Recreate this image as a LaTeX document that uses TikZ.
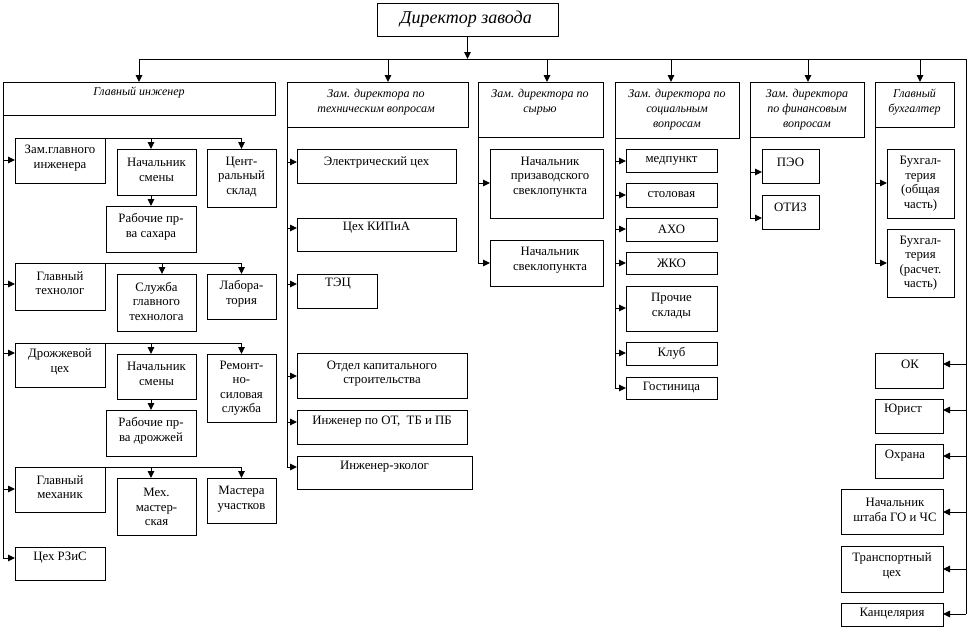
\documentclass[tikz,border=0pt]{standalone}
\usepackage{fontspec}
\setmainfont{Liberation Serif}
\usetikzlibrary{arrows.meta}
\newcommand\mybox[9][tx]{%
  \node[bx,minimum width={(#5-#3)*1pt},minimum height={(#6-#4)*1pt}] (#2) at ({(#3+#5)/2},{(#4+#6)/2}) {};
  \node[#1] (#2t) at (#7,#8) {#9};
}
\begin{document}
\begin{tikzpicture}[x=1pt,y=-1pt,
  bx/.style={draw,line width=1pt,rectangle,inner sep=0pt,outer sep=0pt},
  tx/.style={align=center,inner sep=0pt,font=\fontsize{12.8}{14.5}\selectfont},
  hd/.style={align=center,inner sep=0pt,font=\fontsize{12}{15}\selectfont\itshape},
  dr/.style={align=center,inner sep=0pt,font=\fontsize{18}{20}\selectfont\itshape},
  ln/.style={line width=1pt},
  ar/.style={line width=1pt,-{Triangle[length=7pt,width=6.5pt]}}]
\useasboundingbox (0,0) rectangle (970,630);

% director and top row
\mybox[dr]{dir}{377}{3}{558}{36}{466}{19}{Директор завода}
\mybox[hd]{gi}{3}{82}{275}{115}{139}{93}{Главный инженер}
\mybox[hd]{tex}{287}{82}{468}{127}{376}{102.5}{Зам. директора по\\техническим вопросам}
\mybox[hd]{syr}{478}{82}{603}{137}{540}{102.5}{Зам. директора по\\сырью}
\mybox[hd]{soc}{615}{82}{739}{138}{677}{110}{Зам. директора по\\социальным\\вопросам}
\mybox[hd]{fin}{750}{82}{864}{137}{807}{110}{Зам. директора\\по финансовым\\вопросам}
\mybox[hd]{buh}{875}{82}{954}{127}{914.5}{102.5}{Главный\\бухгалтер}

\coordinate (busL) at (139,59);
\coordinate (busR) at (966,59);
\coordinate (busE) at (966,614);
\draw[ar] (dir.south) -- (dir.south |- busL);
\draw[ln] (busL) -- (busR) -- (busE);
\draw[ar] (busL) -- (gi.north);
\draw[ar] (388,59) -- (tex.north -| 388,0);
\draw[ar] (547,59) -- (syr.north -| 547,0);
\draw[ar] (671,59) -- (soc.north -| 671,0);
\draw[ar] (808,59) -- (fin.north -| 808,0);
\draw[ar] (920,59) -- (buh.north -| 920,0);

% chief engineer subtree
\mybox{zam}{15}{138}{105}{183}{60}{158}{Зам.главного\\инженера}
\mybox{ns1}{117}{149}{196}{195}{156.5}{170}{Начальник\\смены}
\mybox{rs1}{106}{206}{196}{252}{151}{227}{Рабочие пр-\\ва сахара}
\mybox{csk}{207}{149}{276}{207}{241.5}{177}{Цент-\\ральный\\склад}
\mybox{gt}{15}{263}{105}{310}{60}{283}{Главный\\технолог}
\mybox{sgt}{117}{274}{196}{331}{156.5}{301}{Служба\\главного\\технолога}
\mybox{lab}{207}{274}{276}{319}{241.5}{294}{Лабора-\\тория}
\mybox{dz}{15}{343}{105}{387}{60}{362}{Дрожжевой\\цех}
\mybox{ns2}{117}{354}{196}{399}{156.5}{374}{Начальник\\смены}
\mybox{rs2}{106}{410}{196}{456}{151}{431}{Рабочие пр-\\ва дрожжей}
\mybox{rss}{207}{354}{276}{422}{241.5}{388}{Ремонт-\\но-\\силовая\\служба}
\mybox{gm}{15}{467}{105}{512}{60}{487}{Главный\\механик}
\mybox{mm}{117}{478}{196}{535}{156.5}{507}{Мех.\\мастер-\\ская}
\mybox{mu}{207}{478}{276}{523}{241.5}{499}{Мастера\\участков}
\mybox{rz}{15}{547}{105}{580}{60}{558}{Цех РЗиС}

\draw[ln] (gi.south west) -- (gi.south west |- 0,558);
\draw[ar] (gi.south west |- 0,160) -- (zam.west |- 0,160);
\draw[ar] (gi.south west |- 0,284) -- (gt.west |- 0,284);
\draw[ar] (gi.south west |- 0,353) -- (dz.west |- 0,353);
\draw[ar] (gi.south west |- 0,489) -- (gm.west |- 0,489);
\draw[ar] (gi.south west |- 0,558) -- (rz.west |- 0,558);

\draw[ln] (zam.north east) -- (csk.north |- zam.north east);
\draw[ar] (zam.north -| 151,0) -- (ns1.north -| 151,0);
\draw[ar] (csk.north |- zam.north) -- (csk.north);
\draw[ar] (ns1.south -| 151,0) -- (rs1.north -| 151,0);

\draw[ln] (gt.north east) -- (lab.north |- gt.north east);
\draw[ar] (gt.north -| 162,0) -- (sgt.north -| 162,0);
\draw[ar] (lab.north |- gt.north) -- (lab.north);

\draw[ln] (dz.north east) -- (rss.north |- dz.north east);
\draw[ar] (dz.north -| 151,0) -- (ns2.north -| 151,0);
\draw[ar] (rss.north |- dz.north) -- (rss.north);
\draw[ar] (ns2.south -| 151,0) -- (rs2.north -| 151,0);

\draw[ln] (gm.north east) -- (mu.north |- gm.north east);
\draw[ar] (gm.north -| 151,0) -- (mm.north -| 151,0);
\draw[ar] (mu.north |- gm.north) -- (mu.north);

% technical deputy subtree
\mybox{el}{297}{149}{456}{183}{376.5}{162}{Электрический цех}
\mybox{kip}{297}{218}{456}{251}{376.5}{228}{Цех КИПиА}
\mybox{tec}{297}{274}{377}{308}{338}{284}{ТЭЦ}
\mybox{oks}{297}{353}{467}{398}{382}{373.5}{Отдел капитального\\строительства}
\mybox{ot}{297}{410}{467}{444}{382}{422}{Инженер по ОТ,\ \ ТБ и ПБ}
\mybox{eko}{297}{456}{472}{489}{384.5}{467}{Инженер-эколог}

\draw[ln] (tex.south west) -- (tex.south west |- 0,467);
\draw[ar] (tex.south west |- 0,162) -- (el.west |- 0,162);
\draw[ar] (tex.south west |- 0,228) -- (kip.west |- 0,228);
\draw[ar] (tex.south west |- 0,284) -- (tec.west |- 0,284);
\draw[ar] (tex.south west |- 0,376) -- (oks.west |- 0,376);
\draw[ar] (tex.south west |- 0,422) -- (ot.west |- 0,422);
\draw[ar] (tex.south west |- 0,467) -- (eko.west |- 0,467);

% raw material deputy subtree
\mybox{nps}{490}{149}{603}{218}{550}{177}{Начальник\\призаводского\\свеклопункта}
\mybox{nsv}{490}{240}{603}{286}{550}{260}{Начальник\\свеклопункта}
\draw[ln] (syr.south west) -- (syr.south west |- 0,263);
\draw[ar] (syr.south west |- 0,183) -- (nps.west |- 0,183);
\draw[ar] (syr.south west |- 0,263) -- (nsv.west |- 0,263);

% social deputy subtree
\mybox{med}{626}{149}{717}{172}{671.5}{161}{медпункт}
\mybox{sto}{626}{183}{717}{207}{671.5}{195}{столовая}
\mybox{aho}{626}{218}{717}{241}{671.5}{229}{АХО}
\mybox{jko}{626}{252}{717}{274}{671.5}{263}{ЖКО}
\mybox{pro}{626}{286}{717}{331}{671.5}{306}{Прочие\\склады}
\mybox{klub}{626}{342}{717}{365}{671.5}{353}{Клуб}
\mybox{gos}{626}{377}{717}{399}{671.5}{388}{Гостиница}
\draw[ln] (soc.south west) -- (soc.south west |- 0,388);
\draw[ar] (soc.south west |- 0,161) -- (med.west |- 0,161);
\draw[ar] (soc.south west |- 0,195) -- (sto.west |- 0,195);
\draw[ar] (soc.south west |- 0,229) -- (aho.west |- 0,229);
\draw[ar] (soc.south west |- 0,263) -- (jko.west |- 0,263);
\draw[ar] (soc.south west |- 0,308) -- (pro.west |- 0,308);
\draw[ar] (soc.south west |- 0,353) -- (klub.west |- 0,353);
\draw[ar] (soc.south west |- 0,388) -- (gos.west |- 0,388);

% finance deputy subtree
\mybox{peo}{762}{149}{819}{183}{790.5}{162}{ПЭО}
\mybox{otiz}{762}{195}{819}{229}{790.5}{207}{ОТИЗ}
\draw[ln] (fin.south west) -- (fin.south west |- 0,218);
\draw[ar] (fin.south west |- 0,172) -- (peo.west |- 0,172);
\draw[ar] (fin.south west |- 0,218) -- (otiz.west |- 0,218);

% chief accountant subtree
\mybox{bo}{887}{149}{954}{218}{920.5}{183.5}{Бухгал-\\терия\\(общая\\часть)}
\mybox{br}{887}{229}{954}{297}{920.5}{263}{Бухгал-\\терия\\(расчет.\\часть)}
\draw[ln] (buh.south west) -- (buh.south west |- 0,263);
\draw[ar] (buh.south west |- 0,183) -- (bo.west |- 0,183);
\draw[ar] (buh.south west |- 0,263) -- (br.west |- 0,263);

% right column
\mybox{ok}{875}{353}{943}{388}{910}{364}{ОК}
\mybox{jur}{875}{399}{943}{433}{903}{410}{Юрист}
\mybox{ohr}{875}{444}{943}{478}{905}{456}{Охрана}
\mybox{gochs}{841}{489}{943}{534}{895}{510}{Начальник\\штаба ГО и ЧС}
\mybox{trans}{841}{546}{943}{592}{892}{566}{Транспортный\\цех}
\mybox{kanc}{841}{603}{943}{626}{892}{614}{Канцелярия}
\draw[ar] (busR |- 0,364) -- (ok.east |- 0,364);
\draw[ar] (busR |- 0,410) -- (jur.east |- 0,410);
\draw[ar] (busR |- 0,456) -- (ohr.east |- 0,456);
\draw[ar] (busR |- 0,512) -- (gochs.east |- 0,512);
\draw[ar] (busR |- 0,569) -- (trans.east |- 0,569);
\draw[ar] (busE) -- (kanc.east |- busE);
\end{tikzpicture}
\end{document}
